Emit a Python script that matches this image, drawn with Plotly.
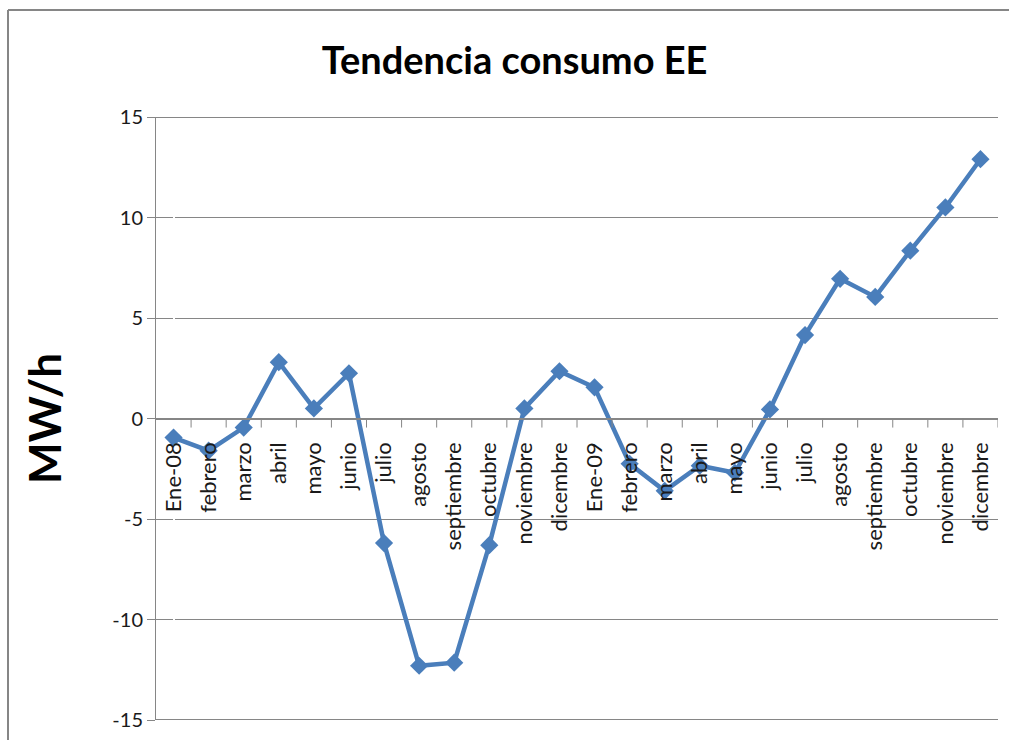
import plotly.graph_objects as go

# Monthly consumption trend, Jan 2008 - Dec 2009
meses = ["Ene-08", "febrero", "marzo", "abril", "mayo", "junio", "julio", "agosto",
         "septiembre", "octubre", "noviembre", "dicembre",
         "Ene-09", "febrero", "marzo", "abril", "mayo", "junio", "julio", "agosto",
         "septiembre", "octubre", "noviembre", "dicembre"]
consumo = [-0.95, -1.6, -0.45, 2.8, 0.5, 2.25, -6.2, -12.3, -12.15, -6.3, 0.5, 2.35,
           1.55, -2.25, -3.6, -2.35, -2.7, 0.45, 4.15, 6.95, 6.05, 8.35, 10.5, 12.9]
y_ticks = [-15, -10, -5, 0, 5, 10, 15]
y_labels = ["-15", "-10", "-5", "0", "5", "10", "15"]

# category positions keep repeated month names distinct
pos = list(range(len(meses)))

GRAY = "#868686"
BLUE = "#4a7ebb"

fig = go.Figure()
fig.add_trace(go.Scatter(
    x=pos, y=consumo, mode="lines+markers",
    line=dict(color=BLUE, width=4.5),
    marker=dict(symbol="diamond", size=14, color=BLUE),
    showlegend=False,
))

fig.update_layout(
    width=1009, height=740,
    margin=dict(l=156, r=11, t=117, b=20),
    paper_bgcolor="white", plot_bgcolor="white",
    title=dict(text="<b>Tendencia consumo EE</b>", x=0.51, xanchor="center",
               y=0.918, yanchor="middle",
               font=dict(family="Lato", size=38, color="black")),
    xaxis=dict(
        anchor="free", position=0.5, automargin=False,
        range=[-0.5, len(meses) - 0.5],
        tickmode="array", tickvals=pos, ticktext=meses,
        tickangle=-90, ticks="", showgrid=False, ticklabelstandoff=14,
        showline=True, linecolor=GRAY, linewidth=2,
        tickfont=dict(family="Lato", size=22, color="#1a1a1a"),
    ),
    yaxis=dict(
        range=[-15, 15], tickmode="array", tickvals=y_ticks, ticktext=y_labels,
        showgrid=True, gridcolor=GRAY, gridwidth=1,
        zeroline=False, showline=True, linecolor=GRAY, linewidth=1,
        ticks="outside", ticklen=8, tickcolor=GRAY,
        tickfont=dict(family="Lato", size=20, color="#1a1a1a"),
        title=dict(text="<b>MW/h</b>", standoff=36,
                   font=dict(family="Lato", size=44, color="black")),
        automargin=False,
    ),
)

# category boundary ticks hanging below the zero line
for b in range(1, len(meses) + 1):
    fig.add_shape(type="line", xref="x", yref="y",
                  x0=b - 0.5, x1=b - 0.5, y0=0, y1=-0.45,
                  line=dict(color=GRAY, width=1))

# heavier top and bottom grid lines
for yv in (15, -15):
    fig.add_shape(type="line", xref="paper", yref="y", x0=0, x1=1, y0=yv, y1=yv,
                  line=dict(color=GRAY, width=2))

# outer chart frame: top and left edges
frame_left = (8 - 156) / 842
frame_top = (720 - 10) / 603
fig.add_shape(type="line", xref="paper", yref="paper",
              x0=frame_left, x1=1.1, y0=frame_top, y1=frame_top,
              line=dict(color=GRAY, width=2))
fig.add_shape(type="line", xref="paper", yref="paper",
              x0=frame_left, x1=frame_left, y0=-0.2, y1=frame_top,
              line=dict(color=GRAY, width=2))

fig.write_html("out.html")
